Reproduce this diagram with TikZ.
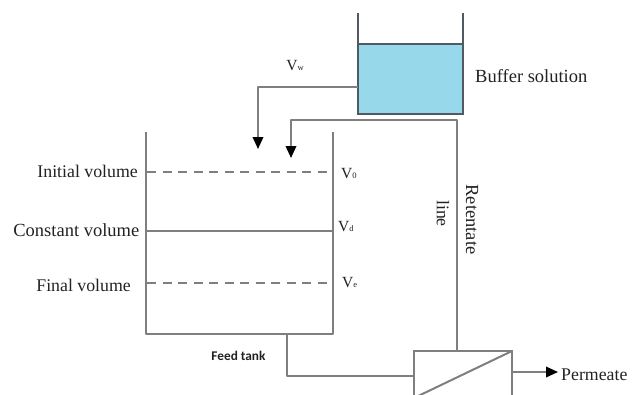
\documentclass[tikz,border=0pt]{standalone}
\usepackage{fontspec}
\setmainfont{Liberation Serif}
\newfontfamily\feedfont{Carlito}
\usetikzlibrary{arrows.meta}
\definecolor{linegray}{HTML}{7F7F7F}
\definecolor{tankdark}{HTML}{505A60}
\definecolor{liquid}{HTML}{97D9EA}
\definecolor{txt}{HTML}{222222}
\tikzset{
  pipe/.style={draw=linegray,line width=2pt},
  flow/.style={pipe,-{Triangle[length=12pt,width=10.5pt,black]}},
  level/.style={draw=linegray,line width=2pt},
  dashlevel/.style={level,dash pattern=on 9pt off 6.5pt},
  lbl/.style={inner sep=0pt,text=txt,font=\fontsize{17.8}{20}\selectfont},
  lblwide/.style={inner sep=0pt,text=txt,font=\fontsize{18.5}{20}\selectfont},
  vlbl/.style={inner sep=0pt,text=txt,font=\fontsize{15.5}{18}\selectfont},
  wall/.style={draw=tankdark,line width=2pt}
}
\newcommand{\sm}[1]{{\fontsize{8.5}{9}\selectfont #1}}
\begin{document}
\begin{tikzpicture}[x=1pt,y=-1pt]
\useasboundingbox (0,0) rectangle (639,394);
% buffer tank
\node[draw=tankdark,fill=liquid,line width=2pt,outer sep=0pt,minimum width=105pt,minimum height=70pt,inner sep=0pt,anchor=north west] (buffer) at (358,44) {};
\coordinate (bl) at (358,13);
\coordinate (br) at (463,13);
\draw[wall] (bl) -- (buffer.north west);
\draw[wall] (br) -- (buffer.north east);
% feed tank
\coordinate (ftl) at (146,132);
\coordinate (ftr) at (333,132);
\coordinate (fbl) at (146,334);
\coordinate (fbr) at (333,334);
\draw[pipe,line join=round] (ftl) -- (fbl) -- (fbr) -- (ftr);
% levels
\draw[dashlevel] (147,172) coordinate (l0) -- (332,172) coordinate (r0);
\draw[level] (ftl |- 0,231) coordinate (l1) -- (ftr |- 0,231) coordinate (r1);
\draw[dashlevel] (147,283) coordinate (l2) -- (332,283) coordinate (r2);
% membrane
\clip (0,0) rectangle (639,394);
\node[draw=linegray,line width=2pt,outer sep=0pt,minimum width=98pt,minimum height=90pt,inner sep=0pt,anchor=north west] (mem) at (414,351) {};
\draw[pipe] (mem.north east) -- (414,398);
% connectors
\coordinate (vwin) at (258,149);
\coordinate (retin) at (291,158);
\coordinate (outlet) at (287,334);
\coordinate (perm) at (558,372);
\draw[flow,line join=round] (buffer.west |- 0,87) -| (vwin);
\draw[flow,line join=round] (457,351) |- (291,120) -- (retin);
\draw[pipe,line join=round] (outlet) |- (414,376);
\draw[flow] (512,372) -- (perm);
% labels
\node[vlbl] (vw) at (295,65.5) {V\sm{w}};
\node[lblwide,anchor=west] (bs) at (475,76) {Buffer solution};
\node[lbl,anchor=east] (iv) at (138,171.5) {Initial volume};
\node[lblwide,anchor=east] (cv) at (139.5,230) {Constant volume};
\node[lbl,anchor=east] (fv) at (131,285.5) {Final volume};
\node[vlbl,anchor=west] (v0) at (341,174) {V\sm{0}};
\node[vlbl,anchor=west] (vd) at (338,227) {V\sm{d}};
\node[vlbl,anchor=west] (ve) at (342,283) {V\sm{e}};
\node[inner sep=0pt,text=txt,font=\fontsize{13.3}{14}\feedfont\bfseries] (ft) at (238.5,356) {Feed tank};
\node[lbl,anchor=west] (pm) at (561,375) {Permeate};
\node[lblwide,rotate=-90] (ret) at (472,219.5) {Retentate};
\node[lbl,rotate=-90] (li) at (443,213.5) {line};
\end{tikzpicture}
\end{document}
